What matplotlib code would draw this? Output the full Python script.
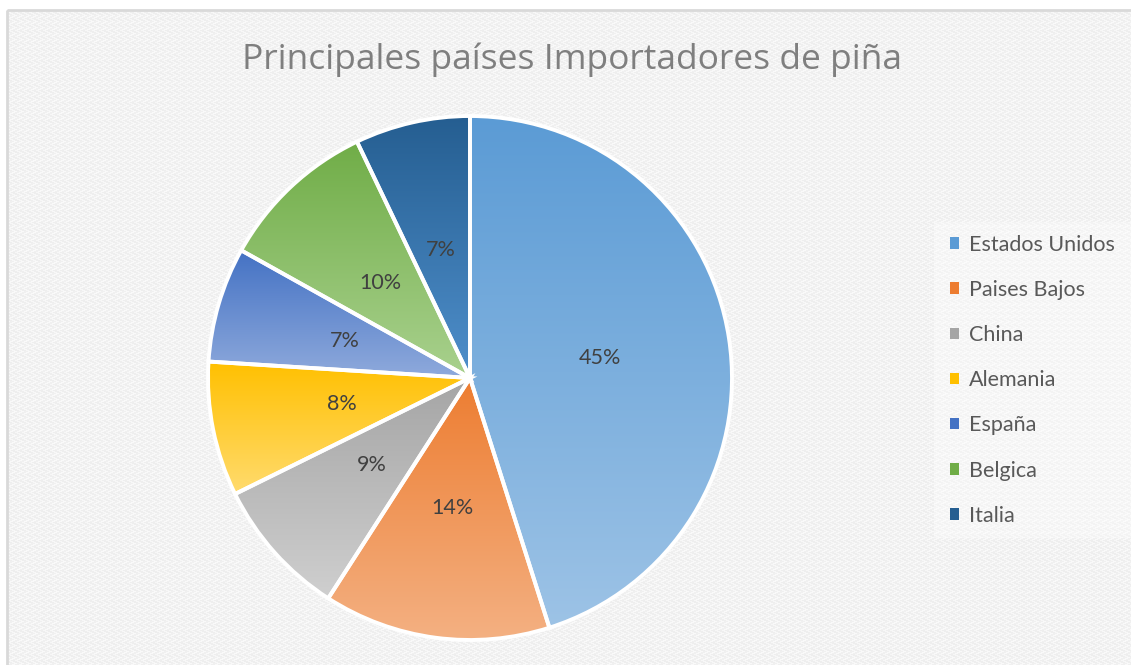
import numpy as np
import matplotlib
matplotlib.use("Agg")
import matplotlib.pyplot as plt
from matplotlib.colors import to_rgb
from matplotlib.patches import Patch, Rectangle

# ---- data ----
countries = ["Estados Unidos", "Paises Bajos", "China", "Alemania", "España", "Belgica", "Italia"]
shares = [45.1, 14.0, 8.6, 8.3, 7.1, 9.8, 7.1]
top_colors = ["#5B9BD5", "#ED7D31", "#A5A5A5", "#FFC000", "#4472C4", "#70AD47", "#255E91"]
bottom_colors = ["#9DC3E6", "#F4B183", "#CFCFCF", "#FFDB6E", "#8FAADC", "#A9D18E", "#4F8FCB"]
title = "Principales países Importadores de piña"

W, H = 1131, 665
fig = plt.figure(figsize=(W / 100, H / 100), dpi=100)
fig.patch.set_facecolor("white")

# ---- textured background ----
bg = fig.add_axes([0, 0, 1, 1], zorder=-10)
yy, xx = np.mgrid[0:H, 0:W]
tri = np.abs((yy % 6) - 3)
pat = (((xx + 2 * tri) % 7) < 3).astype(float)
band = ((yy // 3) % 2)
img = 0.935 + 0.035 * pat + 0.01 * band
img = np.clip(img, 0, 1)
rgb = np.dstack([img, img, img])
rgb[:, :7] = 1.0
rgb[:10, :] = 1.0
bg.imshow(rgb, extent=[0, W, H, 0], aspect="auto", interpolation="nearest")
bg.add_patch(Rectangle((7, 10), W, H, fill=False, edgecolor="#d9d9d9", linewidth=2))
bg.add_patch(Rectangle((934, 222), 197, 316, facecolor="white", alpha=0.35, edgecolor="none"))
bg.set_xlim(0, W)
bg.set_ylim(H, 0)
bg.axis("off")

# ---- pie ----
cx, cy, R = 470, 378, 262
ax = fig.add_axes([(cx - R) / W, (H - cy - R) / H, 2 * R / W, 2 * R / H])
ax.axis("off")


def pct_fmt(p):
    return f"{p:.0f}%"


wedges, texts, autotexts = ax.pie(
    shares, startangle=90, counterclock=False, radius=1.0,
    colors=top_colors, autopct=pct_fmt, pctdistance=0.5,
    wedgeprops=dict(edgecolor="white", linewidth=2.8, clip_on=False),
    textprops=dict(color="#404040", fontsize=15.5, family="Lato"),
    frame=False,
)

for w, c0, c1 in zip(wedges, top_colors, bottom_colors):
    v = w.get_path().vertices
    x0, x1 = v[:, 0].min(), v[:, 0].max()
    y0, y1 = v[:, 1].min(), v[:, 1].max()
    t = np.linspace(0, 1, 256)[:, None]
    a, b = np.array(to_rgb(c0)), np.array(to_rgb(c1))
    grad = (a[None, :] * (1 - t) + b[None, :] * t)[:, None, :]
    im = ax.imshow(grad, extent=[x0, x1, y0, y1], origin="upper", aspect="auto",
                   zorder=1, interpolation="bilinear")
    im.set_clip_path(w)
    w.set_facecolor("none")
    w.set_zorder(2)
for t_ in autotexts:
    t_.set_zorder(3)
ax.set_xlim(-1.0, 1.0)
ax.set_ylim(-1.0, 1.0)

# ---- title ----
fig.text(572 / W, 1 - 60 / H, title, ha="center", va="center",
         fontsize=25.5, color="#7f7f7f", family="Open Sans")

# ---- legend ----
handles = [Patch(facecolor=c, edgecolor="none") for c in top_colors]
leg = fig.legend(handles, countries, loc="upper left",
                 bbox_to_anchor=(941 / W, 1 - 226 / H), frameon=False,
                 prop=dict(family="Lato", size=15.5), labelcolor="#595959",
                 handlelength=0.45, handleheight=0.45, handletextpad=0.45,
                 labelspacing=1.17, borderaxespad=0)

fig.savefig("out.png", dpi=100, facecolor="white")
